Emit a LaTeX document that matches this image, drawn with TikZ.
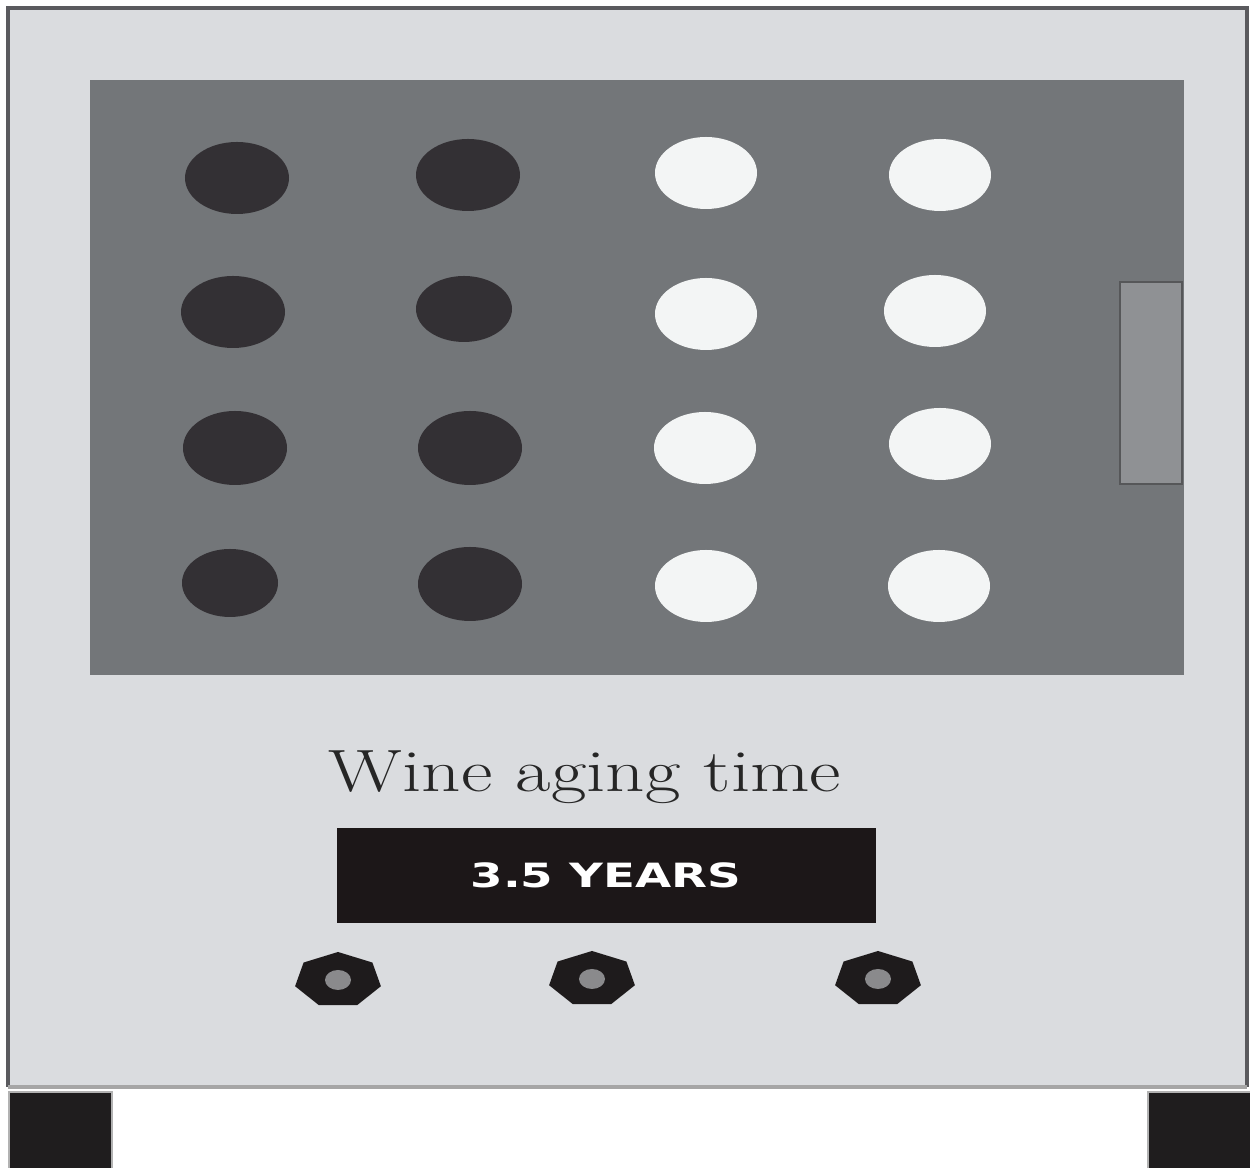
\documentclass[tikz,border=0pt]{standalone}
\usepackage{fontspec}
\newfontfamily\digitfont{DejaVu Sans}
\usetikzlibrary{calc}
\definecolor{cabinet}{HTML}{DADCDF}
\definecolor{cabedge}{HTML}{5A5A5E}
\definecolor{panel}{HTML}{737679}
\definecolor{handlec}{HTML}{8F9194}
\definecolor{darkbottle}{HTML}{333034}
\definecolor{lightbottle}{HTML}{F3F5F5}
\definecolor{footc}{HTML}{1F1D1E}
\definecolor{screen}{HTML}{1C1718}
\definecolor{knobc}{HTML}{1E1B1C}
\definecolor{knobin}{HTML}{8A8A8C}
\tikzset{
  darkb/.style={fill=darkbottle},
  lightb/.style={fill=lightbottle},
  foot/.style={fill=footc, draw=gray!60, line width=0.4pt},
  knobshape/.style={fill=knobc},
  knobcenter/.style={fill=knobin},
}
\begin{document}
\begin{tikzpicture}[x=0.01cm,y=-0.01cm]
\useasboundingbox (0,0) rectangle (1250,1168);
\fill[white] (0,0) rectangle (1250,1168);
% cabinet
\fill[cabinet] (8,8) rectangle (1247,1087);
\draw[cabedge, line width=1.2pt] (8,1087) -- (8,8) -- (1247,8) -- (1247,1087);
\draw[gray!70, line width=1pt] (8,1087) -- (1247,1087);
% feet
\draw[foot] (9,1092) rectangle (112,1172);
\draw[foot] (1148,1092) rectangle (1252,1172);
% inner panel
\fill[panel] (90,80) rectangle (1184,675);
% handle
\draw[handlec!60!black, fill=handlec, line width=0.8pt] (1120,282) rectangle (1182,484);
% dark bottles
\fill[darkb] (237,178) ellipse [x radius=52, y radius=36];
\fill[darkb] (468,175) ellipse [x radius=52, y radius=36];
\fill[darkb] (233,312) ellipse [x radius=52, y radius=36];
\fill[darkb] (464,309) ellipse [x radius=48, y radius=33];
\fill[darkb] (235,448) ellipse [x radius=52, y radius=37];
\fill[darkb] (470,448) ellipse [x radius=52, y radius=37];
\fill[darkb] (230,583) ellipse [x radius=48, y radius=34];
\fill[darkb] (470,584) ellipse [x radius=52, y radius=37];
% light bottles
\fill[lightb] (706,173) ellipse [x radius=51, y radius=36];
\fill[lightb] (940,175) ellipse [x radius=51, y radius=36];
\fill[lightb] (706,314) ellipse [x radius=51, y radius=36];
\fill[lightb] (935,311) ellipse [x radius=51, y radius=36];
\fill[lightb] (705,448) ellipse [x radius=51, y radius=36];
\fill[lightb] (940,444) ellipse [x radius=51, y radius=36];
\fill[lightb] (706,586) ellipse [x radius=51, y radius=36];
\fill[lightb] (939,586) ellipse [x radius=51, y radius=36];
% label
\node[inner sep=0pt, anchor=base, text=black!85] (title) at (585,792)
  {\scalebox{1.29}[1]{\fontsize{17}{20}\selectfont Wine aging time}};
% display
\fill[screen] (337,828) rectangle (876,923);
\node[inner sep=0pt, text=white] (display) at (606,875)
  {\scalebox{1.4}[1]{\digitfont\bfseries\fontsize{9.5}{11}\selectfont 3.5 YEARS}};
% knobs
\foreach \cx/\cy in {338/980,592/979,878/979}{
  \begin{scope}[shift={(\cx,\cy)}]
    \fill[knobshape] (-90:44 and 28)
      -- (-90+51.43:44 and 28) -- (-90+102.86:44 and 28)
      -- (-90+154.29:44 and 28) -- (-90+205.71:44 and 28)
      -- (-90+257.14:44 and 28) -- (-90+308.57:44 and 28) -- cycle;
    \fill[knobcenter] (0,0) ellipse [x radius=13, y radius=10];
  \end{scope}
}
\end{tikzpicture}
\end{document}
